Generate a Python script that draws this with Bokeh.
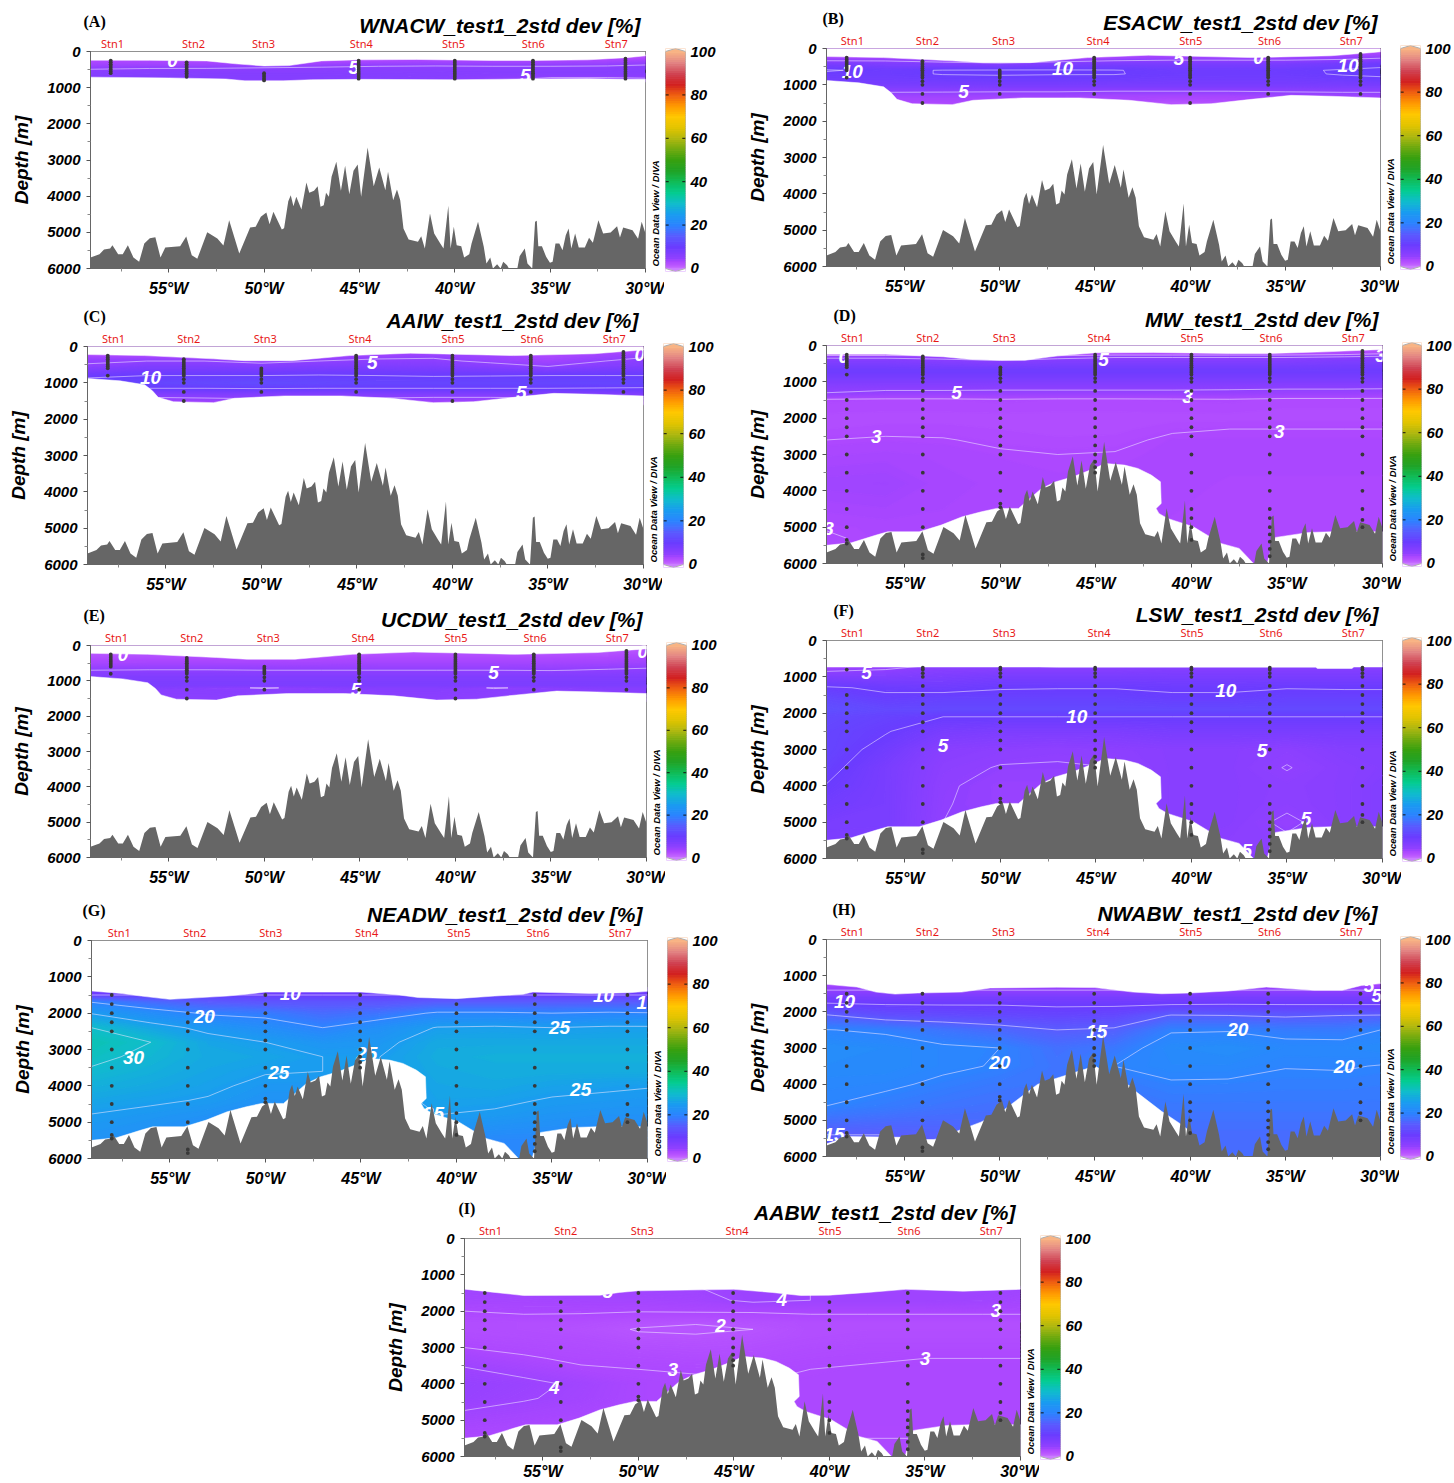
import numpy as np
from bokeh.core.properties import value
from bokeh.embed import file_html
from bokeh.layouts import column, row
from bokeh.models import FixedTicker, Label, LinearAxis, Range1d, Spacer
from bokeh.plotting import figure
from bokeh.resources import INLINE

# ---------------------------------------------------------------- shared data
bathy_lon = [-59.1,-58.63,-58.39,-58.07,-57.95,-57.65,-57.41,-57.14,-56.85,-56.55,-56.28,-55.99,-55.7,-55.43,-55.18,-54.4,-54.08,-53.79,-53.5,-52.98,-52.45,-52.13,-51.83,-51.3,-50.73,-50.44,-50.17,-49.88,-49.71,-49.51,-49.07,-48.95,-48.73,-48.6,-48.46,-48.31,-48.04,-47.78,-47.63,-47.38,-47.19,-47.04,-46.87,-46.75,-46.6,-46.46,-46.21,-45.97,-45.75,-45.53,-45.31,-45.09,-44.91,-44.57,-44.25,-43.96,-43.64,-43.5,-43.23,-43.03,-42.86,-42.69,-42.42,-41.93,-41.76,-41.57,-41.3,-41.08,-40.76,-40.59,-40.34,-40.22,-40.05,-39.9,-39.66,-39.51,-39.24,-39.12,-38.78,-38.48,-38.34,-38.14,-38.0,-37.78,-37.6,-37.46,-37.26,-37.16,-36.72,-36.6,-36.33,-36.19,-35.94,-35.79,-35.7,-35.62,-35.43,-35.21,-35.01,-34.87,-34.72,-34.52,-34.35,-34.18,-34.03,-33.89,-33.69,-33.5,-33.18,-32.96,-32.76,-32.47,-32.22,-31.83,-31.49,-31.34,-31.17,-30.68,-30.39,-30.2,-30.0]
bathy_depth = [5696,5604,5475,5447,5355,5604,5604,5355,5696,5816,5309,5161,5134,5696,5420,5383,5115,5632,5733,4995,5170,5364,4664,5585,4866,4848,4572,4452,4774,4433,4922,4885,4138,3972,4277,4019,4369,3622,3908,3853,3724,4295,4249,3908,4019,3466,3051,3853,3162,3945,3300,3125,4019,2654,3724,3208,3834,3327,4111,3816,4111,4894,5198,5263,5106,5447,4480,5032,5309,5447,4267,5447,4848,5355,5383,5696,5604,5309,4710,5401,5862,5696,6000,5880,6000,5816,5908,6000,6000,5659,5447,5862,6000,4710,4682,5383,5383,5678,5844,5816,5309,5309,5493,5078,4894,5447,5032,5420,5420,5152,5290,4664,5032,5005,4830,5143,4866,4940,5180,4710,5032]

station_lon = [-58.04,-54.06,-50.0,-45.04,-40.0,-35.9,-31.05]
station_names = ["Stn1","Stn2","Stn3","Stn4","Stn5","Stn6","Stn7"]
stn_label_lon = [-57.74,-53.8,-49.8,-44.84,-39.97,-35.83,-31.53]
stn_label_lon_a = [-57.95,-53.7,-50.03,-44.9,-40.07,-35.88,-31.53]
stn_label_lon_g = [-57.65,-53.7,-49.72,-44.7,-39.87,-35.73,-31.43]

stn_samples = [
    [250,300,350,400,450,500,550,600,800,1500,1750,2000,2250,2500,3000,3500,4000,4500,5000,5350,5450],
    [250,300,350,400,450,500,550,600,650,700,750,800,900,1000,1250,1500,1750,2000,2250,2500,3000,3500,4000,4500,5000,5750,5850],
    [600,650,700,750,800,900,1000,1250,1500,1750,2000,2250,2500,2750,3000,3500,4000,4350,4450],
    [200,250,300,350,400,450,500,550,600,650,700,750,800,900,1000,1250,1500,1750,2000,2250,2500,2750,3000,3200,3350,3500],
    [200,250,300,350,400,450,500,550,600,650,700,750,800,900,1000,1250,1500,1750,2000,2250,2500,3000,3500,4000,4500,4750,5000,5350],
    [250,300,350,400,450,500,550,600,650,700,750,800,900,1000,1250,1500,1750,2000,2250,2500,3000,3500,4000,4500,4750,5000,5200,5400,5600,5800],
    [150,200,250,300,350,400,450,500,550,600,650,700,750,800,900,1000,1250,1500,1750,2000,2250,2500,3000,3500,4000,4500,4800,5000],
]

grid_lon = [-59.1,-56,-53,-50,-47,-44,-41,-38,-35,-32,-30]

# colour scale stops
cb_vals = [0,1,3,5,10,15,20,25,30,35,40,45,50,55,60,65,70,75,80,85,90,95,100]
cb_cols = ["#cc80ff","#c060ff","#ad48ff","#9040ff","#6a3cff","#5a5cff","#2c84ff","#1a9cf0","#10bccc","#04cc90","#10bc58","#20a428","#38a010","#70aa10","#b0b810","#e2c400","#ffc800","#ff9a00","#f06010","#d22020","#d04454","#e28484","#f8b484"]

# band edges
top_a_lon = [-59.1,-56,-53,-51.5,-50,-48.7,-47,-45,-42,-38,-36,-33,-31,-30]
top_a_dep = [240,245,260,340,400,390,260,230,220,250,250,230,170,120]
bot_a_lon = [-59.1,-55,-52,-51,-49,-47.5,-45,-40,-36,-33,-31,-30]
bot_a_dep = [710,730,760,810,810,780,770,780,760,750,770,770]

top_b_lon = [-59.1,-56.1,-52.5,-50.9,-48.4,-45.4,-42.2,-36.8,-32.6,-30.4,-30]
top_b_dep = [222,250,340,390,390,250,185,250,200,110,90]
bot_b_lon = [-59.1,-57.4,-56.1,-55.7,-55.4,-54.6,-52.5,-51.4,-48.8,-45.8,-43.2,-41,-38.9,-36.8,-34.7,-32.6,-30]
bot_b_dep = [880,945,1055,1220,1400,1520,1545,1425,1360,1360,1425,1545,1520,1400,1290,1315,1360]

top_d_lon = [-59.1,-56,-53,-51.5,-50,-48.7,-47,-45,-42,-38,-36,-33,-31,-30]
top_d_dep = [240,240,310,385,405,405,285,200,190,220,220,175,130,110]
top_f_lon = [-59.1,-48,-47,-33.5,-33.4,-31.6,-31.5,-30]
top_f_dep = [730,730,735,735,770,770,730,730]
top_g_lon = [-59.1,-57.5,-56.5,-55,-52,-51,-50,-45,-43,-42,-40,-38,-36.5,-36,-33,-31,-30]
top_g_dep = [1390,1460,1530,1620,1530,1480,1420,1420,1500,1570,1600,1530,1480,1420,1460,1440,1400]
top_h_lon = [-59.1,-57.5,-56.5,-55.5,-54.3,-52,-50.5,-47,-45,-43,-41.5,-40,-38,-36,-33.5,-32,-31,-30]
top_h_dep = [1240,1315,1455,1510,1480,1455,1340,1320,1330,1455,1500,1480,1425,1315,1405,1405,1270,1220]
top_i_lon = [-59.1,-57.5,-56,-52,-51,-50,-45,-43,-41.5,-40,-38,-36,-33,-30]
top_i_dep = [1395,1485,1570,1560,1485,1440,1400,1485,1570,1560,1485,1400,1450,1400]

floor_lon = [-59.1,-57.8,-56.5,-55.9,-54.25,-53.1,-52,-51,-50.2,-49.05,-47.85,-47.1,-46.2,-45.3,-44.5,-43.5,-42.8,-42.1,-41.62,-41.58,-41.85,-41.7,-41.25,-39.9,-38.45,-37.5,-36.75,-36.5,-36.04,-35.9,-35.6,-33.86,-32.66,-30]
floor_dep = [5500,5430,5218,5127,5127,4943,4714,4577,4484,4484,3934,3750,3613,3430,3246,3292,3384,3567,3750,4347,4484,4622,4759,4988,5447,5584,6000,6000,6000,5722,5282,5145,5127,5127]
floor_h_lon = [-59.1,-58,-55,-54.3,-53.5,-53,-52.5,-51,-50,-48,-45,-43,-42.9,-41.5,-40.6,-40,-39.8,-30]
floor_h_dep = [5650,5450,5470,5530,5530,5500,5350,5050,4800,4000,3500,4100,4185,4750,5065,5300,6000,6000]

# gridded fields: one row per depth, one value per grid_lon
a_depth = [100,300,400,500,600,700,850]
a_field = [
 [1,1,1,1,1,1,1,1,1,1,1],
 [3.0,3.2,3.0,2.8,3.0,3.4,3.6,3.6,3.6,3.8,4.2],
 [4.0,4.1,4.2,4.4,4.6,4.9,5.0,4.9,4.9,5.0,5.3],
 [5.1,5.4,5.4,5.6,5.8,6.0,6.0,6.0,6.0,6.0,6.2],
 [6.2,6.3,6.4,6.4,6.4,6.4,6.3,6.2,6.2,6.2,6.2],
 [6.5,6.5,6.6,6.6,6.6,6.5,6.2,5.6,5.1,5.1,5.2],
 [6.0,6.0,6.0,6.0,6.0,6.0,5.6,4.8,4.4,4.4,4.4]]

b_depth = [0,300,450,600,700,850,1000,1150,1300,1500,1700]
b_field = [
 [1,1,1,1,1,1,1,1,1,1,1],
 [4,4,3,2,3,4,4.5,4.5,4.5,5,5.5],
 [8,7.5,7,6.5,7.5,8,8,8,8,9,9.5],
 [10.2,9.5,10.1,10.2,10.2,10.1,9.5,9.5,9.6,10.2,10.5],
 [9.6,9.5,10.1,10.2,10.1,10.1,9.6,9.5,9.5,10.2,10.4],
 [9,9,9.3,9.4,9.4,9.3,9,9,9,9.3,9.6],
 [8,8,8,8,8,8,8,8,8,8,8],
 [5.5,5.6,5.5,5.4,5.4,5.3,5.3,5.3,5.4,5.6,5.6],
 [3.5,4,4,4,4,3.5,3.5,3.5,4,4,4],
 [2.5,3,3,3,3,3,2,2.5,3,3,3],
 [2,2,2,2,2,2,2,2,2,2,2]]

c_depth = [0,250,400,550,800,1000,1150,1300,1400,1600]
c_field = [
 [1,1,1,1,1,1,1,1,1,1,1],
 [3,3,2.5,2,3,4,4.5,4,3,4,4.5],
 [4.8,5,5,4,5,5.6,5.5,4.5,3.8,5,5.8],
 [5.2,7,7,6.5,7,7.2,7,6,5,6.5,7],
 [9.5,10,10,10,10.2,10,9.8,9.9,10,10,10],
 [11,11.5,12,12.5,12,11.5,11.5,11.5,11.5,11.5,11.5],
 [10.2,10,10,10.2,10,10,10,10,10,9.9,9.8],
 [7,7,7,7,7,7,7,7,7,7,7],
 [5.2,5,5.2,5.5,5.5,5.2,5,5,5.2,5.5,5.5],
 [3,3,3,3,3,3,3,3,3,3,3]]

e_depth = [0,300,500,700,900,1100,1200,1300,1600]
e_field = [
 [1,1,1,1,1,1,1,1,1,1,1],
 [2.2,2.4,2.4,2.2,2.4,2.6,2.6,2.6,2.6,2.7,3],
 [3.4,3.5,3.5,3.5,3.6,3.7,3.7,3.7,3.7,3.8,4],
 [5.0,5.1,5.1,5.0,5.0,5.0,5.0,5.0,4.9,5.2,5.4],
 [7,7,7,7,7,7,7,7,7,7,7],
 [7.6,7.6,7.6,7.6,7.6,7.6,7.6,7.6,7.6,7.6,7.6],
 [6.6,6.6,5.6,4.8,5.6,6.4,6.4,4.8,5.6,6.4,6.4],
 [6,6,6,5.8,6,6,6,5.8,6,6,6],
 [5.5,5.5,5.5,5.5,5.5,5.5,5.5,5.5,5.5,5.5,5.5]]

d_depth = [0,250,300,450,700,950,1200,1300,1480,2000,2300,2600,3000,3800,5000,5300,6000]
d_field = [
 [1,1,1,1,1,1,1,1,1,1,1],
 [2,2,2,1.5,2.2,2.5,2.5,2.5,2.5,3,3.2],
 [4,4,3.5,2,3.5,4.5,4.5,4.5,4.5,4.8,5.1],
 [7,7,6.5,6,7,7,7,7,7,7.5,7.5],
 [9.5,9.5,9.5,9.5,9.5,9.5,9.5,9.5,9.5,9.5,9.5],
 [7.5,7.5,7.5,7.5,7.5,7.5,7.5,7.5,7.5,7.5,7.5],
 [5.4,5.3,5.3,5.2,5.2,5.2,5.2,5.1,5,5,4.9],
 [5,4.5,4.5,4.5,4.5,4.5,4.5,4.5,4.4,4.4,4.3],
 [3,2.9,2.9,3,2.9,2.9,2.95,3,2.8,2.8,2.8],
 [2.6,2.6,2.6,2.6,2.6,2.6,2.6,2.6,2.6,2.6,2.6],
 [2.7,2.8,2.8,2.7,2.6,2.6,2.9,3.0,3,3,3],
 [3.0,3.1,3.05,2.85,2.75,2.8,3.15,3.15,3.15,3.15,3.15],
 [3.3,3.4,3.3,3.1,3.0,3.05,3.2,3.2,3.2,3.2,3.2],
 [3.9,4,3.4,3.3,3.2,3.2,3.2,3.1,3.1,3.1,3.1],
 [3.05,3.2,3.3,3.3,3.2,3.2,3.1,3.1,3.1,3.1,3.1],
 [2.9,3.2,3.3,3.3,3.2,3.2,3.1,3.1,3.1,3.1,3.1],
 [2.9,3.1,3.1,3.1,3.1,3.1,3.1,3.1,3.1,3.1,3.1]]

f_depth = [600,700,1000,1300,1600,1900,2100,2500,3000,3500,4000,4500,5000,5500,6000]
f_field = [
 [2.5,3.5,5,5,5,5,5.5,5.5,5.5,5.5,5.5],
 [3,4,5.5,5.5,5.5,5.5,6,6,6,6,6],
 [7,7,7.5,8,8,8,8,8,8,8,8],
 [10.3,9.6,9.2,9.8,9.9,9.9,9.6,9.6,9.9,9.8,9.8],
 [12,10.5,11,11,11,11,10.5,10.5,11,11,11],
 [13,12,12,12,12,12,12,12,12,12,12],
 [12,11,10,10,10,10,10,10,10,10,10],
 [11.5,10.2,8,7.5,7.5,7.5,8,8,8,8,8],
 [11.5,9,6,5.5,5.2,5.5,6,6,5.5,6.5,6.5],
 [10.8,8,5.5,4.9,4.9,5,6,6,4.9,6,6.5],
 [9.9,8,5.2,4.5,4.5,4.5,6,6,5.5,6,7],
 [9,8,5.1,4.5,4.5,4.5,6,6,5.4,6,7],
 [8,8,5,4.8,5,5,6,6,4.6,6,7],
 [7.5,7,6,5.5,5.5,5.5,6,5.6,5.3,6,7],
 [7.5,7,6,6,6,6,6,6,6,6,7]]

g_depth = [1300,1500,1700,2000,2400,2800,3200,3600,4000,4400,4800,5500,6000]
g_field = [
 [8,8,8,8,8,8,8,8,8,8,8],
 [10,10,10,10,10,10,10,10,10,10,10],
 [20,17,15,14,14,14,15,15,15,15,15],
 [24.8,22,19.5,19,17,18,20.5,20.5,20,20.5,20.2],
 [30,26.5,24,22,20,22.5,25.2,25.5,25,25.5,25.5],
 [32,30,26.5,25,23.5,24,27,27,27,27,27],
 [31,29,27,26.5,25,25,27.5,28,28,28,28],
 [29.5,28,26.5,25.3,25,25,27,27.5,27.5,27.5,27.5],
 [28,27,25.8,24,24,24,26.5,27,26,25.5,25.2],
 [26.5,25.6,24.7,23,23,23,26,25.7,24.7,24.3,24],
 [24.9,24,23,22,22,22,25,24.5,23.5,23,23],
 [23,22,21,21,21,21,22,21,21,21,21],
 [23,22,21,21,21,21,22,21,21,21,21]]

h_depth = [1200,1400,1600,1800,2100,2500,3000,3500,4000,4600,5400,6000]
h_field = [
 [3,3,3,3,3,3,3,3,3,3,3],
 [5,5,5,5,5,5,5,5,5,5,5],
 [8,8,8,8,8,8,8,8,8,8,8],
 [10.5,10,9.9,9.9,9.6,9.6,10,10.1,10,10,10],
 [15.3,13,12.5,12,11.5,12,15.2,15,14.5,15,15.2],
 [20.1,19.5,18,16.5,15,15.5,19.7,19.8,19,18.8,20],
 [22,21.5,20.5,20,17.5,18.5,21.5,22,21,21,21.5],
 [21.5,21.5,20.5,19.8,18,20,21,21,20.1,20.2,19.9],
 [20.8,20.5,19.5,18.5,18,18.7,19.7,19.6,19.4,19.4,19.2],
 [20,19,18,17.5,17.5,18,18.5,18.5,18.5,18.5,18.5],
 [15,15,15.5,16,16,17,17,17,17,17,17],
 [14,14,15,16,16,17,17,17,17,17,17]]

i_depth = [1300,1700,2000,2300,2500,2700,3000,3300,3600,4000,4400,4800,5500,6000]
i_field = [
 [4,4,4,4,4,4.2,4,4,4,4,4],
 [3.6,3.5,3.6,3.6,3.7,4.2,4.0,4,4,3.9,3.6],
 [3.0,3.2,3.15,3.05,3.1,3.1,3.2,3.2,3.2,3.2,3.2],
 [2.6,2.5,2.5,2.2,2.05,2.3,2.5,2.5,2.5,2.5,2.5],
 [2.6,2.5,2.3,1.95,1.9,2.0,2.5,2.5,2.5,2.5,2.5],
 [2.7,2.6,2.5,2.1,2.05,2.2,2.5,2.6,2.6,2.6,2.6],
 [3.0,2.8,2.7,2.5,2.4,2.5,2.7,2.8,2.8,2.8,2.8],
 [3.6,3.1,2.85,2.8,2.7,2.7,2.85,2.9,3.0,3.0,3.0],
 [4.1,3.6,3.1,3.0,2.95,2.9,3.0,3.1,3.1,3.1,3.1],
 [4.6,4.3,3.8,3.2,3.1,3,3.1,3.1,3.1,3.1,3.1],
 [4.5,4.1,3.7,3.2,3.1,3,3.1,3.1,3.1,3.1,3.1],
 [3.9,3.6,3.4,3.1,3,3,3.1,3.1,3.1,3.1,3.1],
 [3,3,3,3,3,3,3,3,3,3,3],
 [3,3,3,3,3,3,3,3,3,3,3]]

# contour labels: text, lon, depth
a_labels = [("0",-54.8,250),("5",-45.3,450),("5",-36.3,650)]
b_labels = [("10",-57.75,620),("10",-46.7,555),("5",-51.9,1195),("5",-40.6,280),("0",-36.4,250),("10",-31.7,480)]
c_labels = [("10",-55.8,845),("5",-44.2,436),("5",-36.4,1270),("0",-30.2,210)]
d_labels = [("0",-58.2,310),("5",-44.6,376),("3",-30.1,266),("5",-52.3,1300),("3",-40.2,1412),("3",-56.5,2494),("3",-35.4,2375),("3",-59,5034)]
e_labels = [("0",-57.4,265),("5",-38.0,762),("5",-45.2,1250),("0",-30.2,170)]
f_labels = [("5",-57,889),("10",-38.2,1370),("10",-46,2093),("5",-53,2880),("5",-36.3,3037),("5",-34,4890),("5",-37.1,5770)]
g_labels = [("10",-48.7,1463),("10",-32.3,1500),("1",-30.3,1695),("20",-53.2,2083),("25",-34.6,2390),("30",-56.9,3222),("25",-49.3,3630),("25",-44.7,3120),("25",-33.5,4090),("25",-41.2,4770)]
h_labels = [("10",-58.15,1704),("15",-44.9,2546),("20",-37.5,2490),("20",-50,3400),("20",-31.9,3510),("15",-58.7,5390),("5",-30.2,1546),("5",-30.6,1268)]
i_labels = [("5",-51.6,1467),("4",-42.5,1669),("3",-31.3,1990),("2",-45.7,2402),("3",-35,3301),("3",-48.2,3595),("4",-54.4,4108)]

panels = [
 dict(letter="(A)",name="WNACW",L=90,R=645,T=51,B=268,lx=83,tx=640,depth=a_depth,field=a_field,iso=[5],labels=a_labels,top=(top_a_lon,top_a_dep),bot=(bot_a_lon,bot_a_dep),band=True,stn=stn_label_lon_a),
 dict(letter="(B)",name="ESACW",L=826,R=1380,T=48,B=266,lx=822,tx=1377,depth=b_depth,field=b_field,iso=[5,10],labels=b_labels,top=(top_b_lon,top_b_dep),bot=(bot_b_lon,bot_b_dep),band=True,stn=stn_label_lon),
 dict(letter="(C)",name="AAIW",L=87,R=643,T=346,B=564,lx=83,tx=638,depth=c_depth,field=c_field,iso=[5,10],labels=c_labels,top=(top_b_lon,top_b_dep),bot=(bot_b_lon,bot_b_dep),band=True,stn=stn_label_lon),
 dict(letter="(D)",name="MW",L=826,R=1382,T=345,B=563,lx=833,tx=1378,depth=d_depth,field=d_field,iso=[3,5],labels=d_labels,top=(top_d_lon,top_d_dep),bot=(floor_lon,floor_dep),band=False,stn=stn_label_lon),
 dict(letter="(E)",name="UCDW",L=90,R=646,T=645,B=857,lx=83,tx=642,depth=e_depth,field=e_field,iso=[5],labels=e_labels,top=(top_b_lon,top_b_dep),bot=(bot_b_lon,bot_b_dep),band=True,stn=stn_label_lon),
 dict(letter="(F)",name="LSW",L=826,R=1382,T=640,B=858,lx=833,tx=1378,depth=f_depth,field=f_field,iso=[5,10],labels=f_labels,top=(top_f_lon,top_f_dep),bot=(floor_lon,floor_dep),band=False,stn=stn_label_lon),
 dict(letter="(G)",name="NEADW",L=91,R=647,T=940,B=1158,lx=82,tx=642,depth=g_depth,field=g_field,iso=[10,20,25,30],labels=g_labels,top=(top_g_lon,top_g_dep),bot=(floor_lon,floor_dep),band=False,stn=stn_label_lon_g),
 dict(letter="(H)",name="NWABW",L=826,R=1380,T=939,B=1156,lx=832,tx=1377,depth=h_depth,field=h_field,iso=[5,10,15,20],labels=h_labels,top=(top_h_lon,top_h_dep),bot=(floor_h_lon,floor_h_dep),band=False,stn=stn_label_lon),
 dict(letter="(I)",name="AABW",L=464,R=1020,T=1238,B=1456,lx=458,tx=1015,depth=i_depth,field=i_field,iso=[2,3,4],labels=i_labels,top=(top_i_lon,top_i_dep),bot=(floor_lon,floor_dep),band=False,stn=stn_label_lon),
]

X0, X1 = -59.1, -30.0
FONT = "Liberation Sans"
HEAD_GAP = 20    # panel canvas starts this far above its frame
HEAD_OVER = 7    # the header strip runs this far under the panel canvas

def to_hex(v):
    rgb = np.array([[int(c[i:i+2], 16) for i in (1, 3, 5)] for c in cb_cols], float)
    return ["#%02x%02x%02x" % tuple(int(round(np.interp(x, cb_vals, rgb[:, k]))) for k in range(3)) for x in v]


def header_fig(pn, fig_left, row_top, width):
    bottom = pn["T"] - HEAD_GAP + HEAD_OVER
    p = figure(width=width, height=bottom - row_top, output_backend="svg", toolbar_location=None,
               x_range=Range1d(fig_left, fig_left + width), y_range=Range1d(bottom, row_top),
               x_axis_location=None, y_axis_location=None, frame_align=False,
               margin=(0, 0, -HEAD_OVER, 0),
               min_border_left=0, min_border_right=0, min_border_top=0, min_border_bottom=0)
    p.grid.visible = False
    p.outline_line_color = None
    p.border_fill_color = None
    p.text([pn["tx"]], [pn["T"] - 26], text=[pn["name"] + "_test1_2std dev [%]"], text_color="black",
           text_font=value(FONT), text_font_style="bold italic", text_font_size="21px",
           text_align="right", text_baseline="middle")
    p.text([pn["lx"]], [pn["T"] - 30], text=[pn["letter"]], text_color="black",
           text_font=value("Liberation Serif"), text_font_style="bold", text_font_size="16px",
           text_align="left", text_baseline="middle")
    return p


def panel_fig(pn, fig_left, row_top, row_bot, cb_left, x_standoff=7):
    w = cb_left - 1 - fig_left
    head = header_fig(pn, fig_left, row_top, w)
    canvas_top = pn["T"] - HEAD_GAP
    h = row_bot - canvas_top
    p = figure(width=w, height=h, output_backend="svg", toolbar_location=None,
               x_range=Range1d(X0, X1), y_range=Range1d(6000, 0), frame_align=False,
               min_border_left=pn["L"] - fig_left, min_border_right=cb_left - 1 - pn["R"],
               min_border_top=HEAD_GAP, min_border_bottom=row_bot - pn["B"])
    p.grid.visible = False
    p.outline_line_color = "#222222"
    p.outline_line_width = 1
    p.background_fill_color = "white"
    p.border_fill_color = None

    # field
    z = np.array(pn["field"], float)
    levels = np.linspace(z.min(), z.max() + 0.01, 41)
    mids = 0.5 * (levels[:-1] + levels[1:])
    p.contour(grid_lon, pn["depth"], z, levels, fill_color=to_hex(mids),
              line_color=to_hex(levels), line_width=1.6)
    p.contour(grid_lon, pn["depth"], z, pn["iso"], line_color="#f0e8ff", line_width=0.7, line_alpha=0.8)
    # contour labels are cut by the data mask, as in the reference
    tx = [t[0] for t in pn["labels"]]
    lo = [t[1] for t in pn["labels"]]
    de = [t[2] for t in pn["labels"]]
    p.text(lo, de, text=tx, text_color="white", text_font=value(FONT), text_font_style="bold italic",
           text_font_size="19px", text_align="center", text_baseline="middle")
    # masks
    tl, td = pn["top"]
    p.patch(list(tl) + [X1 + 1, X1 + 1, X0 - 1, X0 - 1], list(td) + [td[-1], -100, -100, td[0]],
            fill_color="white", line_color="white", line_width=0.5)
    bl, bd = pn["bot"]
    p.patch(list(bl) + [X1 + 1, X1 + 1, X0 - 1, X0 - 1], list(bd) + [bd[-1], 6100, 6100, bd[0]],
            fill_color="white", line_color="white", line_width=0.5)
    # bathymetry
    p.varea(x=bathy_lon, y1=bathy_depth, y2=[6000] * len(bathy_lon), fill_color="#666666")
    # stations
    sx, sy = [], []
    for lon, samples in zip(station_lon, stn_samples):
        t = np.interp(lon, tl, td)
        b = np.interp(lon, bl, bd) if pn["band"] else 1e9
        for d in samples:
            if t <= d <= b:
                sx.append(lon)
                sy.append(d)
    p.scatter(sx, sy, size=3.8, color="#383838", line_color=None)

    # axes
    xa = p.xaxis[0]
    xa.ticker = FixedTicker(ticks=[-55, -50, -45, -40, -35, -30],
                            minor_ticks=[-57.5, -52.5, -47.5, -42.5, -37.5, -32.5])
    xa.major_label_overrides = {-55: "55°W", -50: "50°W", -45: "45°W", -40: "40°W", -35: "35°W", -30: "30°W"}
    ya = p.yaxis[0]
    ya.ticker = FixedTicker(ticks=[0, 1000, 2000, 3000, 4000, 5000, 6000],
                            minor_ticks=[500, 1500, 2500, 3500, 4500, 5500])
    ya.axis_label = "Depth [m]"
    ya.axis_label_text_font = FONT
    ya.axis_label_text_font_style = "bold italic"
    ya.axis_label_text_font_size = "19px"
    ya.axis_label_text_color = "black"
    ya.axis_label_standoff = 12
    for a, sz, so in ((xa, "16px", x_standoff), (ya, "15px", 6)):
        a.major_label_text_font = FONT
        a.major_label_text_font_style = "bold italic"
        a.major_label_text_font_size = sz
        a.major_label_text_color = "black"
        a.major_label_standoff = so
        a.axis_line_color = "#666666"
        a.major_tick_line_color = "#555555"
        a.minor_tick_line_color = "#888888"
        a.major_tick_in = 0
        a.major_tick_out = 4
        a.minor_tick_in = 0
        a.minor_tick_out = 3

    # station names as an axis above the frame
    sa = LinearAxis(ticker=FixedTicker(ticks=list(pn["stn"]), minor_ticks=[]),
                    major_label_overrides=dict(zip(pn["stn"], station_names)),
                    axis_line_color=None, major_tick_line_color=None, minor_tick_line_color=None,
                    major_tick_in=0, major_tick_out=0, major_label_standoff=1,
                    major_label_text_font="Noto Sans", major_label_text_font_size="11px",
                    major_label_text_color="#e81818")
    p.add_layout(sa, "above")
    p.add_layout(Label(x=10, y=2, x_units="screen", y_units="screen",
                       text="Ocean Data View / DIVA", angle=np.pi / 2, text_font=FONT,
                       text_font_style="bold italic", text_font_size="9.5px", text_align="left",
                       text_baseline="middle", text_color="black"), "right")
    return column(head, p)


def colorbar_fig(pn, width, row_top, row_bot):
    tip = 1.4
    u = (pn["B"] - pn["T"]) / 100.0
    tip_px = int(round(tip * u))
    p = figure(width=width, height=row_bot - row_top, output_backend="svg", toolbar_location=None,
               x_range=Range1d(0, 1), y_range=Range1d(-tip, 100 + tip), frame_align=False,
               x_axis_location=None, y_axis_location="right",
               min_border_left=1, min_border_right=width - 1 - 20,
               min_border_top=pn["T"] - tip_px - row_top, min_border_bottom=row_bot - pn["B"] - tip_px)
    p.grid.visible = False
    p.outline_line_color = None
    p.border_fill_color = None
    edges = np.linspace(-tip, 100 + tip, 104)
    vals = np.clip(0.5 * (edges[:-1] + edges[1:]), 0, 100)
    cols = to_hex(vals)
    p.quad(left=0, right=1, bottom=edges[:-1], top=edges[1:], fill_color=cols, line_color=cols, line_width=1)
    # tapered ends
    for y_edge, y_tip in ((100, 100 + tip), (0, -tip)):
        p.patch([0, 0.5, 0], [y_edge, y_tip, y_tip], fill_color="white", line_color="white", line_width=0.5)
        p.patch([1, 0.5, 1], [y_edge, y_tip, y_tip], fill_color="white", line_color="white", line_width=0.5)
    p.line([0, 0, 0.5, 1, 1, 0.5, 0], [0, 100, 100 + tip, 100, 0, -tip, 0], line_color="#999999", line_width=0.8)
    marks = [20, 40, 60, 80]
    p.segment([0] * 4, marks, [0.16] * 4, marks, line_color="#111111", line_width=1)
    p.segment([0.84] * 4, marks, [1] * 4, marks, line_color="#111111", line_width=1)
    a = p.yaxis[0]
    a.ticker = FixedTicker(ticks=[0, 20, 40, 60, 80, 100], minor_ticks=[])
    a.axis_line_color = None
    a.major_tick_line_color = None
    a.minor_tick_line_color = None
    a.major_tick_in = 0
    a.major_tick_out = 0
    a.major_label_standoff = 5
    a.major_label_text_font = FONT
    a.major_label_text_font_style = "bold italic"
    a.major_label_text_font_size = "15px"
    a.major_label_text_color = "black"
    return p


COL2 = 730
ROW_EDGES = [0, 306, 600, 898, 1198, 1483]
rows = []
for r in range(4):
    top, bot = ROW_EDGES[r], ROW_EDGES[r + 1]
    pa, pb = panels[2 * r], panels[2 * r + 1]
    ca, cb = pa["R"] + 20, pb["R"] + 20
    rows.append(row(
        panel_fig(pa, 0, top, bot, ca), colorbar_fig(pa, COL2 - (ca - 1), top, bot),
        panel_fig(pb, COL2, top, bot, cb), colorbar_fig(pb, 1454 - (cb - 1), top, bot)))
pi = panels[8]
ci = pi["R"] + 20
rows.append(row(Spacer(width=380, height=ROW_EDGES[5] - ROW_EDGES[4]),
                panel_fig(pi, 380, ROW_EDGES[4], ROW_EDGES[5], ci, x_standoff=2),
                colorbar_fig(pi, 60, ROW_EDGES[4], ROW_EDGES[5])))
page = column(*rows)
open("out.html", "w").write(file_html(page, INLINE))
